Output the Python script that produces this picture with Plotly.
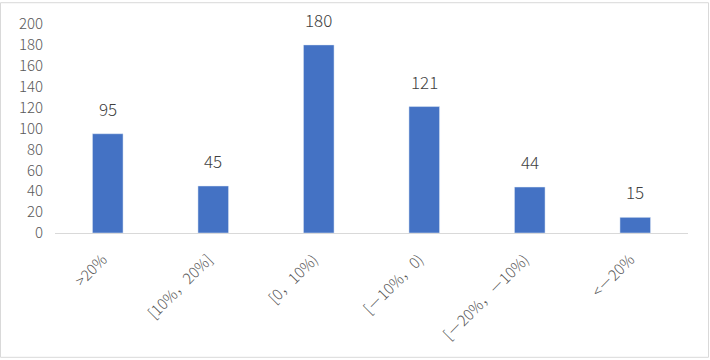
import plotly.graph_objects as go

categories = [">20%", "[10%，20%]", "[0，10%)", "[－10%，0)", "[－20%，－10%)", "<－20%"]
values = [95, 45, 180, 121, 44, 15]
y_ticks = list(range(0, 201, 20))

W, H = 710, 360
ml, mr, mt, mb = 55, 22, 22, 127
pw, ph = W - ml - mr, H - mt - mb

font_family = "Noto Sans CJK SC, Noto Sans, sans-serif"

fig = go.Figure(go.Bar(x=categories, y=values, marker_color="#4472C4", width=0.29))

for c, v in zip(categories, values):
    fig.add_annotation(x=c, y=v, text=str(v), showarrow=False, yanchor="bottom",
                       yshift=11, font=dict(size=17, color="#404040", family=font_family, weight=300))

fig.add_shape(type="rect", xref="paper", yref="paper",
              x0=(-ml + 0.5) / pw, x1=(W - ml - 1.5) / pw,
              y0=(-mb + 1.5) / ph, y1=(H - mb - 0.5) / ph,
              line=dict(color="#d9d9d9", width=1), fillcolor="rgba(0,0,0,0)", layer="below")

fig.update_layout(
    width=W, height=H,
    margin=dict(l=ml, r=mr, t=mt, b=mb),
    plot_bgcolor="white", paper_bgcolor="white",
    showlegend=False,
    font=dict(family=font_family, size=14, color="#595959", weight=300),
    xaxis=dict(tickangle=-45, showline=True, linecolor="#d9d9d9", linewidth=1,
               ticks="", ticklabelstandoff=11, ticklabelshift=-5,
               tickfont=dict(size=15, color="#595959", weight=300), showgrid=False),
    yaxis=dict(range=[0, 200], tickvals=y_ticks, showgrid=False, zeroline=False,
               showline=False, ticks="", ticklabelstandoff=11,
               tickfont=dict(size=15, color="#595959", weight=300)),
)

fig.write_html("out.html")
